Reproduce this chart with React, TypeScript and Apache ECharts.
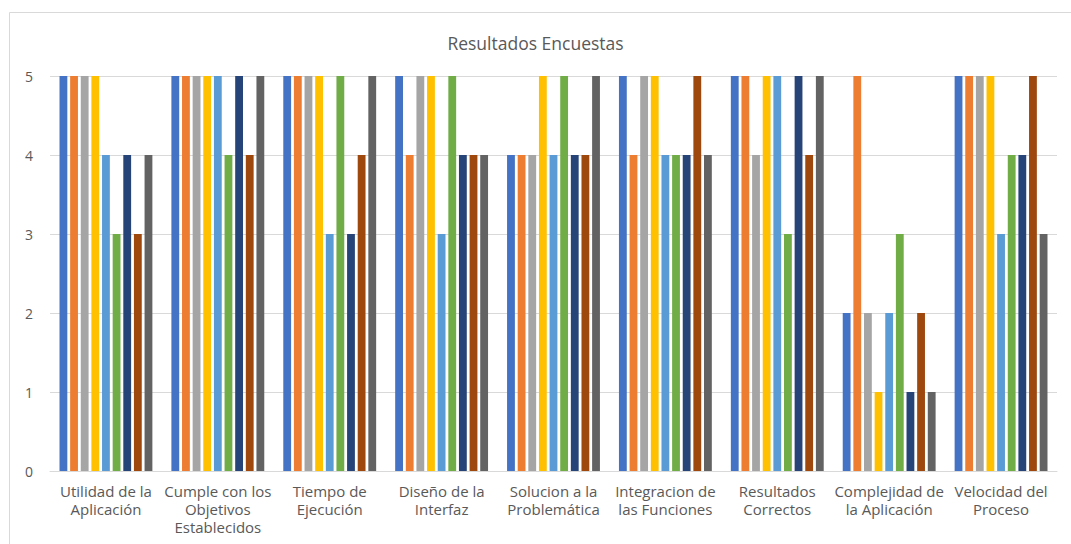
import React, { useEffect, useRef } from "react";
import * as echarts from "echarts";

const categories = [
  "Utilidad de la\nAplicación",
  "Cumple con los\nObjetivos\nEstablecidos",
  "Tiempo de\nEjecución",
  "Diseño de la\nInterfaz",
  "Solucion a la\nProblemática",
  "Integracion de\nlas Funciones",
  "Resultados\nCorrectos",
  "Complejidad de\nla Aplicación",
  "Velocidad del\nProceso",
];

const seriesNames = [
  "Encuesta 1",
  "Encuesta 2",
  "Encuesta 3",
  "Encuesta 4",
  "Encuesta 5",
  "Encuesta 6",
  "Encuesta 7",
  "Encuesta 8",
  "Encuesta 9",
];

// One array per respondent, values in category order
const encuesta1 = [5, 5, 5, 5, 4, 5, 5, 2, 5];
const encuesta2 = [5, 5, 5, 4, 4, 4, 5, 5, 5];
const encuesta3 = [5, 5, 5, 5, 4, 5, 4, 2, 5];
const encuesta4 = [5, 5, 5, 5, 5, 5, 5, 1, 5];
const encuesta5 = [4, 5, 3, 3, 4, 4, 5, 2, 3];
const encuesta6 = [3, 4, 5, 5, 5, 4, 3, 3, 4];
const encuesta7 = [4, 5, 3, 4, 4, 4, 5, 1, 4];
const encuesta8 = [3, 4, 4, 4, 4, 5, 4, 2, 5];
const encuesta9 = [4, 5, 5, 4, 5, 4, 5, 1, 3];

const seriesValues = [
  encuesta1,
  encuesta2,
  encuesta3,
  encuesta4,
  encuesta5,
  encuesta6,
  encuesta7,
  encuesta8,
  encuesta9,
];

const palette = [
  "#4472C4",
  "#ED7D31",
  "#A5A5A5",
  "#FFC000",
  "#5B9BD5",
  "#70AD47",
  "#264478",
  "#9E480E",
  "#636363",
];

const FONT = "'Open Sans', 'Noto Sans', sans-serif";

export default function App() {
  const ref = useRef<HTMLDivElement>(null);

  useEffect(() => {
    if (!ref.current) return;
    const chart = echarts.init(ref.current, undefined, { renderer: "svg" });
    chart.setOption({
      animation: false,
      backgroundColor: "#ffffff",
      color: palette,
      title: {
        text: "Resultados Encuestas",
        left: "center",
        top: 29,
        textStyle: {
          fontFamily: FONT,
          fontSize: 17.5,
          fontWeight: "normal",
          color: "#595959",
        },
      },
      graphic: [
        {
          type: "rect",
          shape: { x: 9.5, y: 12.5, width: 1100, height: 600 },
          style: { fill: "none", stroke: "#D9D9D9", lineWidth: 1 },
          silent: true,
        },
      ],
      grid: { left: 50, right: 14, top: 76, bottom: 73 },
      xAxis: {
        type: "category",
        data: categories,
        axisLine: { lineStyle: { color: "#D9D9D9" } },
        axisTick: { show: false },
        axisLabel: {
          interval: 0,
          margin: 11,
          fontFamily: FONT,
          fontSize: 15,
          lineHeight: 18,
          color: "#595959",
        },
      },
      yAxis: {
        type: "value",
        min: 0,
        max: 5,
        interval: 1,
        axisLine: { show: false },
        axisTick: { show: false },
        splitLine: { lineStyle: { color: "#D9D9D9" } },
        axisLabel: {
          margin: 17,
          fontFamily: FONT,
          fontSize: 14,
          color: "#595959",
        },
      },
      series: seriesValues.map((values, i) => ({
        name: seriesNames[i],
        type: "bar",
        data: values,
        barGap: "36%",
        barCategoryGap: "17%",
      })),
    });
    return () => chart.dispose();
  }, []);

  return (
    <div
      ref={ref}
      style={{ position: "fixed", left: 0, top: 0, width: 1071, height: 544 }}
    />
  );
}
